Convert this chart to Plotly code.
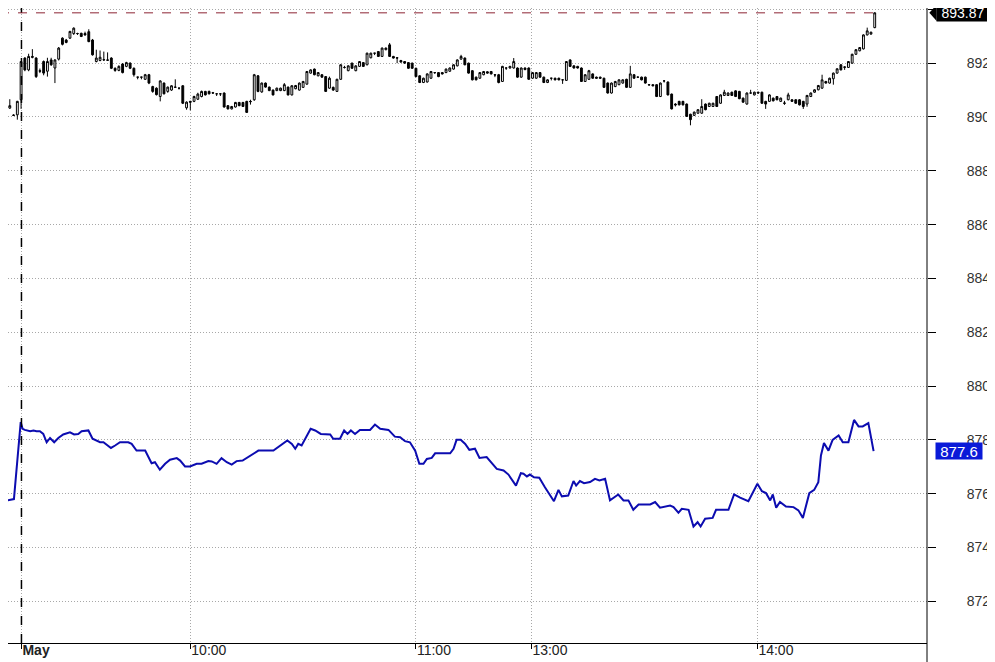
import plotly.graph_objects as go

# one-minute bars; index 0-4 are the previous session, 5 is the May open
bar_index = list(range(233))
opens = [
    889.62, 890.20, 890.33, 890.07, 890.08, 890.64, 892.19, 891.75, 892.25, 892.19,
    891.72, 892.06, 891.70, 892.12, 891.82, 892.15, 892.93, 892.86, 892.93, 893.10,
    893.10, 893.11, 893.10, 893.17, 892.86, 892.06, 892.10, 892.12, 892.12, 892.19,
    891.81, 891.73, 891.97, 891.88, 892.00, 891.81, 891.48, 891.48, 891.40, 891.57,
    891.13, 891.07, 890.76, 891.26, 890.95, 891.00, 891.10, 891.07, 891.16, 890.34,
    890.58, 890.58, 890.66, 890.76, 890.95, 890.95, 890.90, 890.86, 890.86, 890.89,
    890.42, 890.30, 890.37, 890.54, 890.54, 890.58, 890.58, 890.64, 891.53, 890.93,
    891.26, 891.11, 891.00, 890.98, 890.98, 890.98, 891.11, 890.82, 891.05, 891.00,
    891.10, 891.22, 891.63, 891.78, 891.53, 891.57, 891.50, 891.07, 891.10, 890.95,
    891.40, 891.84, 891.72, 892.00, 891.72, 891.88, 892.02, 891.94, 892.20, 892.37,
    892.43, 892.25, 892.50, 892.68, 892.25, 892.20, 892.10, 892.06, 892.02, 892.00,
    891.81, 891.53, 891.28, 891.30, 891.44, 891.65, 891.65, 891.65, 891.65, 891.70,
    891.78, 891.90, 892.15, 892.19, 892.00, 891.72, 891.48, 891.44, 891.57, 891.68,
    891.69, 891.57, 891.57, 891.32, 891.82, 891.82, 891.82, 891.82, 891.48, 891.82,
    891.82, 891.44, 891.44, 891.65, 891.48, 891.28, 891.44, 891.44, 891.44, 891.38,
    891.36, 892.12, 891.90, 891.88, 891.82, 891.32, 891.40, 891.60, 891.48, 891.48,
    891.44, 891.26, 890.89, 891.13, 891.20, 891.26, 891.40, 891.10, 891.57, 891.48,
    891.48, 891.48, 891.20, 891.20, 891.20, 890.76, 891.34, 891.30, 890.85, 890.48,
    890.58, 890.58, 890.48, 890.10, 890.06, 890.14, 890.14, 890.48, 890.39, 890.39,
    890.76, 890.51, 890.80, 890.80, 890.92, 890.97, 890.95, 890.70, 890.48, 890.89,
    890.82, 890.92, 890.92, 890.58, 890.58, 890.70, 890.76, 890.58, 890.52, 890.64,
    890.64, 890.64, 890.64, 890.58, 890.48, 890.76, 890.92, 891.01, 891.07, 891.32,
    891.26, 891.42, 891.63, 891.94, 891.84, 891.84, 892.00, 892.33, 892.46, 892.53,
    893.05, 893.08, 893.32,
]
highs = [
    890.22, 890.51, 890.66, 890.10, 890.60, 892.08, 892.22, 892.35, 892.52, 892.22,
    891.80, 892.10, 892.20, 892.20, 892.14, 892.60, 892.96, 892.90, 893.20, 893.33,
    893.13, 893.13, 893.17, 893.26, 892.90, 892.50, 892.47, 892.43, 892.40, 892.22,
    891.84, 891.92, 892.00, 892.05, 892.03, 891.84, 891.49, 891.49, 891.60, 891.60,
    891.16, 891.10, 891.36, 891.28, 891.13, 891.18, 891.40, 891.09, 891.18, 890.58,
    890.60, 890.79, 890.90, 890.98, 890.97, 890.98, 890.93, 890.87, 890.87, 890.91,
    890.44, 890.41, 890.56, 890.56, 890.56, 890.60, 890.64, 891.60, 891.56, 891.28,
    891.28, 891.13, 891.02, 891.09, 891.09, 891.26, 891.13, 891.18, 891.19, 891.28,
    891.34, 891.71, 891.77, 891.80, 891.67, 891.59, 891.52, 891.50, 891.13, 891.42,
    891.96, 891.90, 891.92, 892.02, 891.92, 892.08, 892.04, 892.39, 892.39, 892.38,
    892.45, 892.58, 892.58, 892.75, 892.27, 892.22, 892.12, 892.08, 892.04, 892.02,
    891.83, 891.55, 891.46, 891.62, 891.71, 891.67, 891.67, 891.67, 891.80, 891.84,
    891.96, 892.14, 892.31, 892.21, 892.02, 891.74, 891.50, 891.67, 891.71, 891.70,
    891.71, 891.58, 891.60, 891.90, 891.83, 891.90, 892.19, 891.84, 891.84, 891.84,
    891.84, 891.67, 891.67, 891.67, 891.50, 891.40, 891.45, 891.46, 891.46, 891.39,
    892.08, 892.14, 891.92, 891.90, 891.84, 891.59, 891.75, 891.62, 891.50, 891.50,
    891.46, 891.28, 891.28, 891.34, 891.40, 891.40, 891.42, 891.90, 891.59, 891.50,
    891.50, 891.50, 891.21, 891.22, 891.22, 891.28, 891.36, 891.32, 890.87, 890.51,
    890.60, 890.60, 890.50, 890.12, 890.20, 890.29, 890.66, 890.50, 890.53, 890.53,
    890.78, 890.84, 891.01, 890.91, 890.94, 890.99, 890.97, 890.72, 890.91, 891.01,
    890.94, 890.94, 890.94, 890.60, 890.84, 890.72, 890.78, 890.72, 890.60, 890.90,
    890.66, 890.66, 890.66, 890.60, 890.82, 890.91, 891.03, 891.19, 891.57, 891.34,
    891.46, 891.65, 891.81, 891.96, 891.88, 892.08, 892.35, 892.52, 892.60, 893.07,
    893.32, 893.17, 893.89,
]
lows = [
    889.46, 890.18, 890.30, 890.04, 889.90, 890.30, 891.70, 891.70, 892.18, 891.45,
    891.63, 891.55, 891.50, 891.90, 891.26, 892.10, 892.66, 892.74, 892.90, 893.05,
    893.05, 892.97, 893.02, 892.78, 892.28, 892.03, 892.07, 892.08, 892.08, 891.78,
    891.68, 891.70, 891.62, 891.85, 891.78, 891.50, 891.40, 891.40, 891.38, 891.22,
    890.90, 890.80, 890.58, 890.84, 890.90, 890.97, 891.08, 891.02, 890.48, 890.27,
    890.25, 890.55, 890.63, 890.73, 890.80, 890.84, 890.86, 890.78, 890.78, 890.35,
    890.28, 890.28, 890.35, 890.40, 890.37, 890.15, 890.46, 890.60, 890.92, 890.90,
    891.09, 890.96, 890.80, 890.96, 890.96, 890.96, 890.80, 890.80, 891.03, 890.98,
    891.08, 891.20, 891.61, 891.55, 891.51, 891.46, 890.93, 891.05, 890.97, 890.93,
    891.38, 891.80, 891.70, 891.79, 891.70, 891.86, 891.86, 891.92, 892.18, 892.30,
    892.23, 892.23, 892.48, 892.23, 892.17, 892.00, 892.02, 891.98, 891.79, 891.79,
    891.48, 891.26, 891.26, 891.28, 891.42, 891.60, 891.48, 891.58, 891.63, 891.68,
    891.76, 891.88, 892.13, 891.92, 891.61, 891.36, 891.36, 891.42, 891.55, 891.61,
    891.58, 891.48, 891.25, 891.30, 891.75, 891.80, 891.80, 891.46, 891.46, 891.74,
    891.38, 891.42, 891.42, 891.46, 891.26, 891.26, 891.36, 891.36, 891.36, 891.23,
    891.34, 891.86, 891.80, 891.80, 891.30, 891.30, 891.38, 891.42, 891.42, 891.42,
    891.08, 890.87, 890.87, 891.11, 891.18, 891.24, 891.08, 891.08, 891.42, 891.46,
    891.36, 891.24, 891.18, 891.14, 890.74, 890.74, 891.28, 890.80, 890.28, 890.39,
    890.43, 890.43, 890.00, 889.69, 890.04, 890.12, 890.12, 890.25, 890.37, 890.37,
    890.37, 890.49, 890.78, 890.78, 890.78, 890.74, 890.66, 890.53, 890.46, 890.87,
    890.80, 890.87, 890.49, 890.30, 890.56, 890.58, 890.62, 890.56, 890.45, 890.62,
    890.56, 890.49, 890.43, 890.30, 890.38, 890.74, 890.90, 890.99, 891.05, 891.24,
    891.24, 891.20, 891.61, 891.73, 891.75, 891.82, 891.98, 892.31, 892.44, 892.51,
    893.03, 893.06, 893.30,
]
closes = [
    890.20, 890.42, 890.42, 890.06, 890.58, 892.06, 891.75, 892.25, 892.22, 891.50,
    891.70, 891.63, 892.06, 891.94, 892.12, 892.56, 892.70, 892.77, 893.18, 893.30,
    893.10, 892.99, 893.05, 892.80, 892.31, 892.19, 892.22, 892.13, 892.11, 891.81,
    891.73, 891.88, 891.65, 892.02, 891.81, 891.57, 891.48, 891.48, 891.57, 891.26,
    890.95, 890.83, 891.34, 890.86, 891.11, 891.16, 891.11, 891.07, 890.51, 890.55,
    890.55, 890.76, 890.85, 890.95, 890.82, 890.86, 890.89, 890.86, 890.86, 890.37,
    890.30, 890.39, 890.54, 890.42, 890.39, 890.17, 890.57, 891.57, 890.95, 891.26,
    891.11, 890.98, 890.82, 891.07, 891.07, 891.20, 890.82, 891.16, 891.17, 891.26,
    891.32, 891.69, 891.75, 891.57, 891.65, 891.48, 890.95, 891.44, 891.00, 891.40,
    891.94, 891.84, 891.90, 891.81, 891.90, 892.06, 891.88, 892.37, 892.37, 892.37,
    892.25, 892.56, 892.56, 892.25, 892.19, 892.19, 892.04, 892.00, 891.81, 891.81,
    891.50, 891.28, 891.44, 891.60, 891.69, 891.65, 891.50, 891.60, 891.78, 891.82,
    891.94, 892.12, 892.25, 891.94, 891.63, 891.38, 891.38, 891.65, 891.69, 891.63,
    891.60, 891.56, 891.28, 891.88, 891.82, 891.88, 892.06, 891.48, 891.82, 891.76,
    891.40, 891.65, 891.65, 891.48, 891.28, 891.38, 891.44, 891.38, 891.38, 891.38,
    892.06, 891.88, 891.82, 891.82, 891.32, 891.57, 891.72, 891.44, 891.44, 891.44,
    891.10, 890.89, 891.26, 891.32, 891.38, 891.38, 891.10, 891.60, 891.44, 891.48,
    891.38, 891.26, 891.19, 891.16, 890.76, 891.26, 891.34, 890.82, 890.30, 890.45,
    890.45, 890.45, 890.02, 889.90, 890.18, 890.27, 890.39, 890.27, 890.51, 890.51,
    890.39, 890.82, 890.92, 890.89, 890.80, 890.76, 890.68, 890.55, 890.89, 890.89,
    890.92, 890.89, 890.51, 890.48, 890.82, 890.60, 890.64, 890.70, 890.51, 890.82,
    890.58, 890.51, 890.45, 890.39, 890.80, 890.89, 891.01, 891.17, 891.38, 891.26,
    891.44, 891.63, 891.79, 891.75, 891.86, 892.06, 892.33, 892.50, 892.58, 893.05,
    893.20, 893.15, 893.87,
]

# blue comparison line, vertices (x in bar-index units)
line_x = [
    -0.6, 0.1, 1.3, 3.1, 4.9, 5.4, 6.0, 7.4, 8.3, 9.1, 10.0, 10.9, 11.8, 12.7,
    13.8, 14.9, 16.2, 18.0, 19.1, 20.2, 21.1, 22.9, 24.0, 26.0, 26.9, 28.9, 30.0,
    31.3, 33.5, 34.4, 35.7, 38.0, 39.7, 40.6, 41.9, 43.3, 44.6, 46.4, 47.3, 48.6,
    49.9, 51.7, 53.0, 54.8, 55.7, 57.0, 58.3, 59.7, 61.0, 62.3, 63.9, 65.4, 68.1,
    72.1, 73.9, 75.8, 77.0, 77.9, 78.7, 79.6, 82.0, 83.2, 84.7, 87.2, 88.0, 89.8,
    90.9, 91.8, 92.7, 93.8, 95.1, 97.8, 99.1, 100.5, 102.7, 104.4, 105.8, 107.1,
    108.4, 109.8, 110.9, 112.0, 112.9, 114.2, 115.1, 119.1, 120.0, 120.8, 121.9,
    123.1, 124.2, 125.7, 126.9, 128.8, 131.5, 133.3, 134.6, 136.6, 137.9, 138.6,
    139.5, 140.3, 141.4, 142.8, 144.3, 146.7, 147.9, 148.8, 150.5, 151.9, 152.6,
    153.6, 154.7, 156.3, 157.6, 158.8, 160.3, 161.6, 163.8, 165.2, 166.5, 167.8,
    169.2, 172.3, 173.6, 174.9, 177.6, 178.5, 179.8, 180.7, 182.5, 183.8, 184.9,
    185.7, 186.9, 188.9, 189.8, 193.1, 194.6, 196.2, 198.4, 200.8, 202.0, 203.1,
    204.2, 204.9, 205.8, 206.8, 208.4, 210.4, 211.7, 212.9, 214.6, 215.9, 217.0,
    217.7, 218.5, 219.7, 220.8, 222.4, 223.5, 225.0, 226.5, 227.7, 228.8, 230.3,
    231.7,
]
line_y = [
    875.52, 875.72, 875.75, 875.80, 878.66, 878.41, 878.37, 878.32, 878.35, 878.32,
    878.32, 878.22, 877.91, 878.07, 877.91, 878.07, 878.20, 878.28, 878.20, 878.22,
    878.32, 878.35, 878.04, 877.91, 877.91, 877.70, 877.79, 877.91, 877.91, 877.85,
    877.60, 877.60, 877.13, 877.17, 876.89, 877.11, 877.26, 877.32, 877.23, 877.01,
    877.01, 877.11, 877.11, 877.21, 877.20, 877.11, 877.32, 877.17, 877.08, 877.21,
    877.23, 877.36, 877.60, 877.60, 877.79, 877.98, 877.85, 877.67, 877.85, 877.79,
    878.41, 878.35, 878.22, 878.20, 878.04, 878.04, 878.35, 878.22, 878.35, 878.22,
    878.37, 878.37, 878.57, 878.41, 878.37, 878.12, 878.10, 877.95, 877.91, 877.60,
    877.11, 877.11, 877.29, 877.33, 877.50, 877.50, 877.67, 878.00, 878.00, 877.85,
    877.63, 877.67, 877.33, 877.36, 876.92, 876.86, 876.71, 876.30, 876.76, 876.74,
    876.64, 876.71, 876.61, 876.59, 876.24, 875.72, 876.14, 875.90, 875.93, 876.47,
    876.30, 876.47, 876.39, 876.43, 876.55, 876.49, 876.55, 875.75, 875.97, 875.75,
    875.75, 875.40, 875.60, 875.60, 875.69, 875.48, 875.56, 875.50, 875.29, 875.44,
    875.40, 874.78, 874.94, 874.78, 875.07, 875.10, 875.40, 875.40, 875.97, 875.85,
    875.72, 876.37, 876.09, 876.02, 875.75, 875.97, 875.48, 875.69, 875.52, 875.50,
    875.38, 875.10, 876.02, 876.14, 876.43, 877.42, 877.88, 877.60, 878.00, 878.16,
    877.91, 877.91, 878.74, 878.50, 878.50, 878.62, 877.58,
]

x_tick_vals = [5.1, 50, 110, 140.7, 200.8]
x_tick_text = ["<b>May</b>", "10:00", "11:00", "13:00", "14:00"]
y_tick_vals = [872, 874, 876, 878, 880, 882, 884, 886, 888, 890, 892, 894]
y_tick_text = ["872", "874", "876", "878", "880", "882", "884", "886", "888", "890", "892", ""]
session_open = 5.1
last_price = 893.87
last_line = 877.6

FONT = "Liberation Sans, Arial, sans-serif"
LINE_BLUE = "#0c0cb0"
BOX_BLUE = "#0a1ad8"
GRID = "#a8a8a8"

fig = go.Figure()
fig.add_trace(
    go.Candlestick(
        x=bar_index,
        open=opens,
        high=highs,
        low=lows,
        close=closes,
        increasing=dict(line=dict(color="black", width=1), fillcolor="white"),
        decreasing=dict(line=dict(color="black", width=1), fillcolor="black"),
        whiskerwidth=0,
        hoverinfo="skip",
    )
)
fig.add_trace(
    go.Scatter(
        x=line_x,
        y=line_y,
        mode="lines",
        line=dict(color=LINE_BLUE, width=2),
        hoverinfo="skip",
    )
)

# session divider and last-price marker
fig.add_shape(
    type="line", xref="x", yref="paper", x0=session_open, x1=session_open, y0=0, y1=1,
    line=dict(color="black", width=1.5, dash="dash"),
)
fig.add_shape(
    type="line", xref="x", yref="y", x0=-0.6, x1=bar_index[-1], y0=last_price, y1=last_price,
    line=dict(color="#8c2434", width=1, dash="dash"),
)
# right axis line runs down past the time axis
fig.add_shape(
    type="line", xref="paper", yref="paper", x0=1, x1=1, y0=-0.03, y1=1,
    line=dict(color="black", width=1),
)
fig.add_shape(
    type="path", xref="paper", yref="y",
    path=f"M 1.0025,{last_price} L 1.0105,{last_price + 0.3} L 1.0105,{last_price - 0.3} Z",
    fillcolor="black", line=dict(width=0),
)
fig.add_annotation(
    xref="paper", yref="y", x=1, y=last_price, xanchor="left", xshift=9,
    width=52, height=16, borderpad=0,
    text=f"{last_price:.2f}", showarrow=False, bgcolor="black",
    font=dict(family=FONT, size=14, color="white"),
)
fig.add_annotation(
    xref="paper", yref="y", x=1, y=last_line, xanchor="left", xshift=8,
    width=46, height=16, borderpad=0,
    text=f"{last_line}", showarrow=False, bgcolor=BOX_BLUE,
    font=dict(family=FONT, size=15, color="white"),
)

# the page body adds an 8px offset, so the figure is 8px smaller and
# the ranges start where the reference shows them at that offset
fig.update_layout(
    width=987,
    height=654,
    margin=dict(l=0, r=68, t=0, b=19),
    paper_bgcolor="white",
    plot_bgcolor="white",
    showlegend=False,
    font=dict(family=FONT, size=14, color="#333333"),
    xaxis=dict(
        range=[1.52, 245.9],
        rangeslider=dict(visible=False),
        tickvals=x_tick_vals,
        ticktext=x_tick_text,
        ticklabelposition="outside right",
        ticklabelstandoff=-6,
        ticks="outside",
        ticklen=5,
        tickcolor="black",
        showline=True,
        linecolor="black",
        linewidth=1,
        showgrid=True,
        gridcolor=GRID,
        griddash="1px,2px",
        zeroline=False,
        tickfont=dict(family=FONT, size=14, color="#222222"),
    ),
    yaxis=dict(
        side="right",
        range=[870.45, 894.05],
        tickvals=y_tick_vals,
        ticktext=y_tick_text,
        ticks="outside",
        ticklen=8,
        tickcolor="black",
        ticklabelstandoff=28,
        showline=False,
        showgrid=True,
        gridcolor=GRID,
        griddash="1px,2px",
        zeroline=False,
        tickfont=dict(family=FONT, size=14, color="#333333"),
    ),
)

fig.write_html("out.html")
